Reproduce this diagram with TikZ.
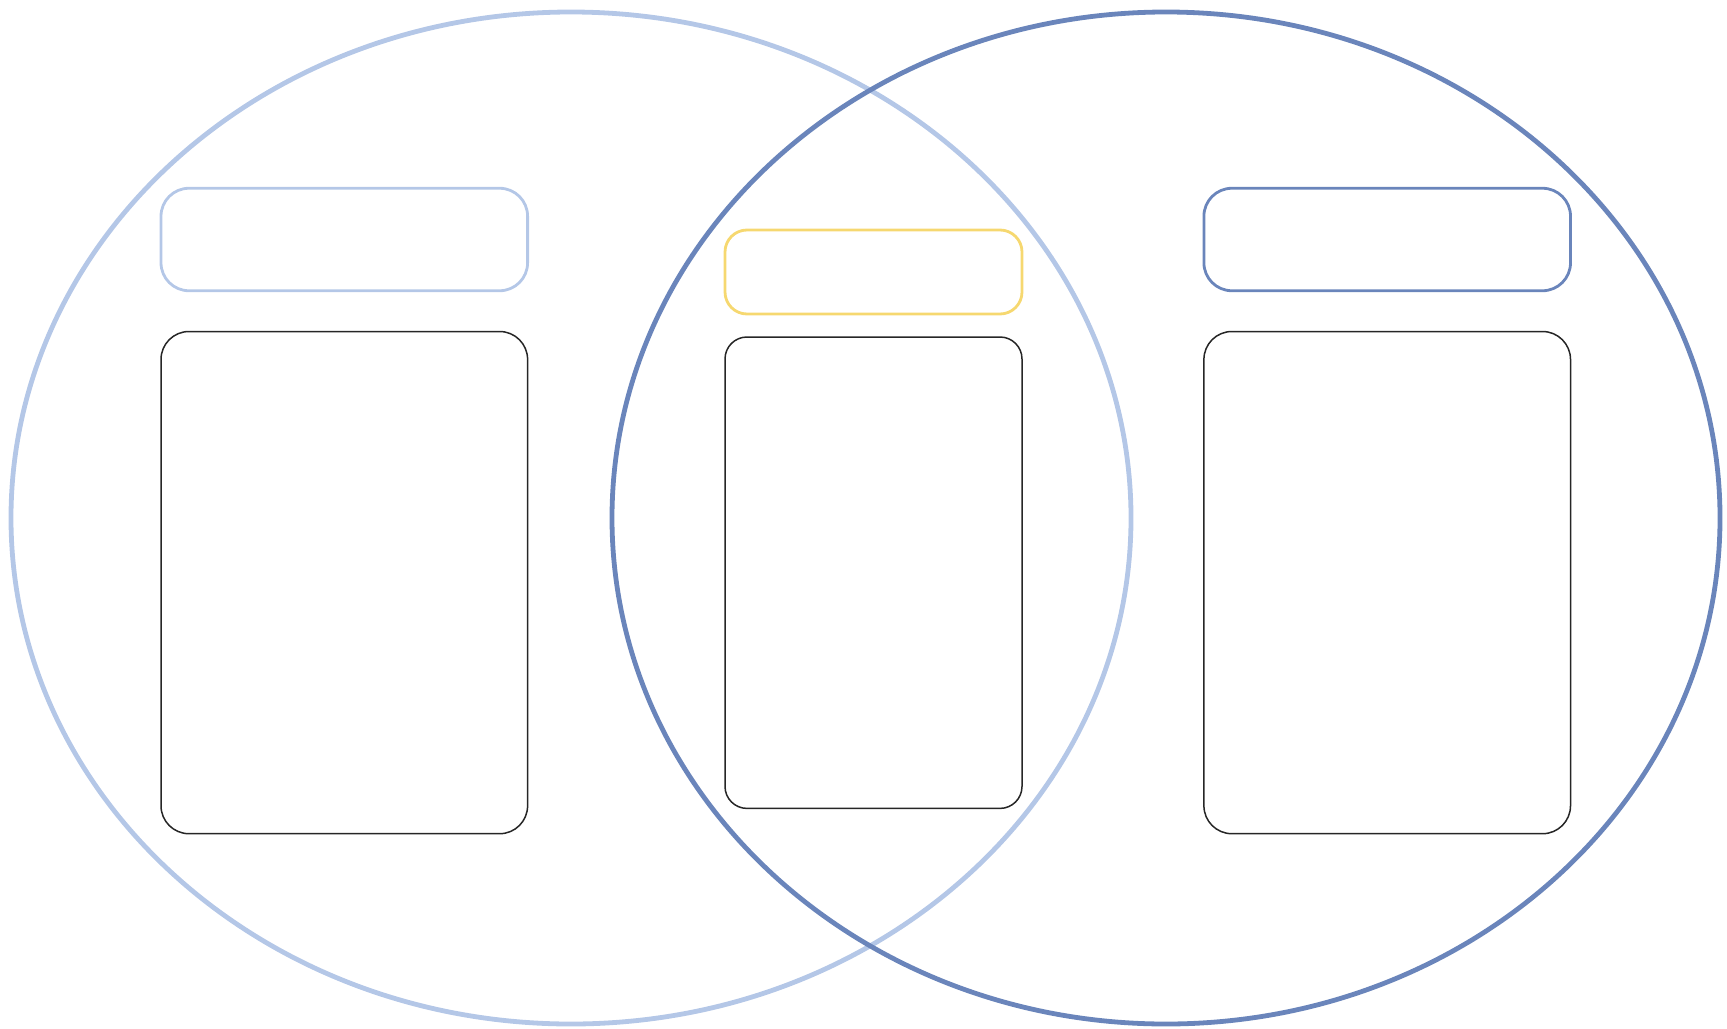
\documentclass[tikz,border=0pt]{standalone}
\definecolor{lightblue}{HTML}{B4C7E7}
\definecolor{darkblue}{HTML}{6A85BB}
\definecolor{softyellow}{HTML}{F6D870}
\tikzset{
  headbox/.style={draw, rounded corners=14pt, line width=1.4pt, inner sep=0pt,
    minimum width=183.3pt, minimum height=51.25pt},
  bodybox/.style={draw=black!85, rounded corners=14pt, line width=0.75pt, inner sep=0pt,
    minimum width=183.3pt, minimum height=251.1pt}
}
\begin{document}
\begin{tikzpicture}[x=0.5pt, y=-0.5pt]
  \useasboundingbox (0,0) rectangle (1727,1028);
  % two sets
  \draw[lightblue, line width=2.4pt] (571,518) ellipse [x radius=280pt, y radius=253pt];
  \draw[darkblue, line width=2.4pt] (1166,518) ellipse [x radius=277pt, y radius=253pt];

  % left set
  \node[headbox, draw=lightblue] (lefthead) at (344.3,239.5) {};
  \node[bodybox] (leftbody) at (344.3,582.6) {};

  % overlap
  \node[headbox, draw=softyellow, rounded corners=11pt, minimum width=148.5pt,
    minimum height=42pt] (midhead) at (873.5,272) {};
  \node[bodybox, rounded corners=11pt, minimum width=148.5pt,
    minimum height=235.7pt] (midbody) at (873.5,572.7) {};

  % right set
  \node[headbox, draw=darkblue] (righthead) at (1387.2,239.5) {};
  \node[bodybox] (rightbody) at (1387.2,582.6) {};
\end{tikzpicture}
\end{document}
